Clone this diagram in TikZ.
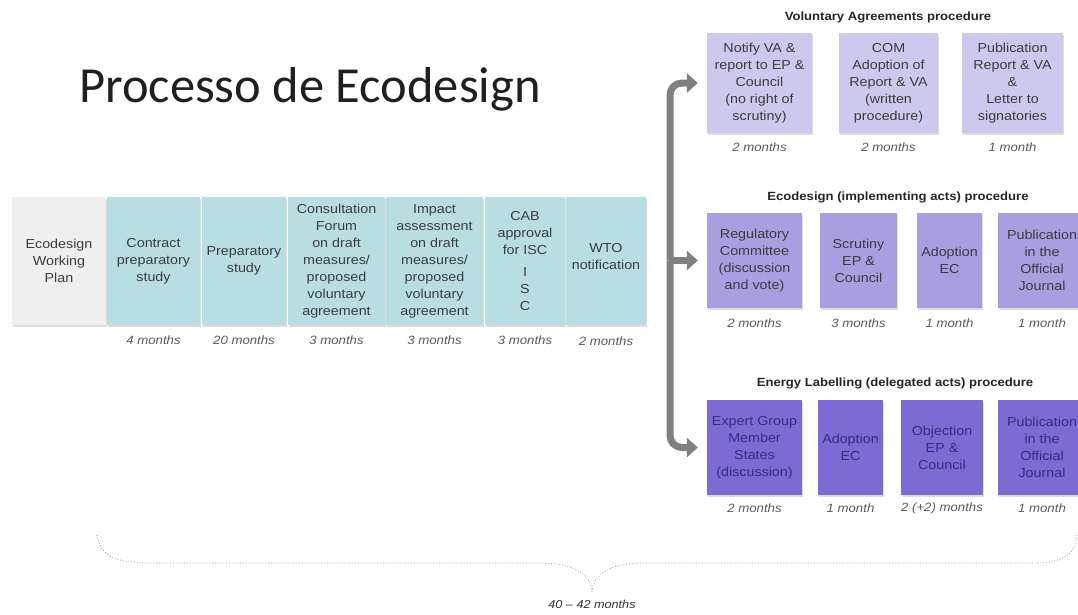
\documentclass[tikz,border=0pt]{standalone}
\usepackage{fontspec}
\setmainfont{Liberation Sans}[FakeStretch=1.1]
\newfontfamily\titlefont{Carlito}
\usetikzlibrary{arrows.meta,shadows}
\definecolor{boxgray}{HTML}{EFEFEF}
\definecolor{boxteal}{HTML}{B8DEE1}
\definecolor{boxva}{HTML}{CDC9EE}
\definecolor{boxec}{HTML}{A99FE0}
\definecolor{boxel}{HTML}{7D6BD3}
\definecolor{txtgray}{HTML}{3C3C3C}
\definecolor{txtel}{HTML}{3A2D80}
\definecolor{mongray}{HTML}{5A5A5A}
\definecolor{spinegray}{HTML}{808080}
\begin{document}
\begin{tikzpicture}[x=1pt,y=-1pt,
  blk/.style={rectangle, inner sep=0pt, align=center,
    font=\fontsize{13}{17}\selectfont, text=txtgray,
    drop shadow={shadow xshift=1.2pt, shadow yshift=-1.8pt, opacity=0.22, fill=black!60}},
  grayblk/.style={blk, fill=boxgray},
  tealblk/.style={blk, fill=boxteal},
  vablk/.style={blk, fill=boxva},
  ecblk/.style={blk, fill=boxec},
  elblk/.style={blk, fill=boxel, text=txtel},
  mon/.style={font=\fontsize{12}{14}\selectfont\itshape, text=mongray, inner sep=0pt},
  proc/.style={font=\fontsize{11.9}{13}\selectfont\bfseries, text=black!85, inner sep=0pt},
  spine/.style={draw=spinegray, line width=7pt, rounded corners=12pt,
    -{Triangle[length=11pt,width=19pt]}, shorten >=9pt},
  brace/.style={draw=black!40, line width=0.8pt, dotted}
]
\useasboundingbox (0,0) rectangle (1078,614);
\clip (0,0) rectangle (1078,614);
\fill[white] (0,0) rectangle (1078,614);

% title
\node[anchor=base west, inner sep=0pt, font=\titlefont\fontsize{50.5}{56}\selectfont, text=black!88] (title) at (79,102) {Processo de Ecodesign};

% main row
\node[grayblk, minimum width=94pt, minimum height=128pt] (b1) at (59,261) {Ecodesign\\Working\\Plan};
\node[tealblk, minimum width=93pt, minimum height=128pt] (b2) at (153.5,261) {Contract\\preparatory\\study};
\node[tealblk, minimum width=84pt, minimum height=128pt] (b3) at (244,261) {Preparatory\\study};
\node[tealblk, minimum width=97pt, minimum height=128pt] (b4) at (336.5,261) {Consultation\\Forum\\on draft\\measures/\\proposed\\voluntary\\agreement};
\node[tealblk, minimum width=97pt, minimum height=128pt] (b5) at (434.5,261) {Impact\\assessment\\on draft\\measures/\\proposed\\voluntary\\agreement};
\node[tealblk, minimum width=80pt, minimum height=128pt] (b6) at (525,261) {CAB\\approval\\for ISC\\[5pt]I\\S\\C};
\node[tealblk, minimum width=80pt, minimum height=128pt] (b7) at (606,261) {WTO\\notification\\[-7pt]};

\node[mon] (m2) at (153.5,340) {4 months};
\node[mon] (m3) at (244,340) {20 months};
\node[mon] (m4) at (336.5,340) {3 months};
\node[mon] (m5) at (434.5,340) {3 months};
\node[mon] (m6) at (525,340) {3 months};
\node[mon] (m7) at (606,341) {2 months};

% voluntary agreements
\node[proc] (tva) at (888,17) {Voluntary Agreements procedure};
\node[vablk, minimum width=105pt, minimum height=100pt] (va1) at (759.5,83) {Notify VA \&\\report to EP \&\\Council\\(no right of\\scrutiny)};
\node[vablk, minimum width=99pt, minimum height=100pt] (va2) at (888.5,83) {COM\\Adoption of\\Report \& VA\\(written\\procedure)};
\node[vablk, minimum width=101pt, minimum height=100pt] (va3) at (1012.5,83) {Publication\\Report \& VA\\\&\\Letter to\\signatories};
\node[mon] (mva1) at (759.5,147) {2 months};
\node[mon] (mva2) at (888.5,147) {2 months};
\node[mon] (mva3) at (1012.5,147) {1 month};

% ecodesign implementing acts
\node[proc] (tec) at (898,197) {Ecodesign (implementing acts) procedure};
\node[ecblk, minimum width=95pt, minimum height=95pt] (ec1) at (754.5,260.5) {Regulatory\\Committee\\(discussion\\and vote)};
\node[ecblk, minimum width=77pt, minimum height=95pt] (ec2) at (858.5,260.5) {Scrutiny\\EP \&\\Council};
\node[ecblk, minimum width=65pt, minimum height=95pt] (ec3) at (949.5,260.5) {Adoption\\EC};
\node[ecblk, minimum width=88pt, minimum height=95pt] (ec4) at (1042,260.5) {Publication\\in the\\Official\\Journal};
\node[mon] (mec1) at (754.5,323) {2 months};
\node[mon] (mec2) at (858.5,323) {3 months};
\node[mon] (mec3) at (949.5,323) {1 month};
\node[mon] (mec4) at (1042,323) {1 month};

% energy labelling
\node[proc] (tel) at (895,383) {Energy Labelling (delegated acts) procedure};
\node[elblk, minimum width=95pt, minimum height=95pt] (el1) at (754.5,447.5) {Expert Group\\Member\\States\\(discussion)};
\node[elblk, minimum width=65pt, minimum height=95pt] (el2) at (850.5,447.5) {Adoption\\EC};
\node[elblk, minimum width=82pt, minimum height=95pt] (el3) at (942,447.5) {Objection\\EP \&\\Council};
\node[elblk, minimum width=88pt, minimum height=95pt] (el4) at (1042,447.5) {Publication\\in the\\Official\\Journal};
\node[mon] (mel1) at (754.5,508) {2 months};
\node[mon] (mel2) at (850.5,508) {1 month};
\node[mon] (mel3) at (942,508) {2 (+2) months};
\node[mon] (mel4) at (1042,508) {1 month};

% branching arrow
\coordinate (sp) at (670,260.5);
\draw[spine] (sp) |- (va1.west);
\draw[spine] (sp) |- (el1.west);
\draw[spine] (sp) -- (ec1.west);

% brace
\draw[brace] (97,535) .. controls (100,556) and (116,563) .. (150,563)
  -- (540,563) .. controls (574,563) and (590,574) .. (592,591)
  .. controls (594,574) and (610,563) .. (644,563)
  -- (1030,563) .. controls (1064,563) and (1074,556) .. (1077,535);
\node[mon, font=\fontsize{11.5}{14}\selectfont\itshape, text=black!80] (total) at (592,604) {40 -- 42 months};
\end{tikzpicture}
\end{document}
